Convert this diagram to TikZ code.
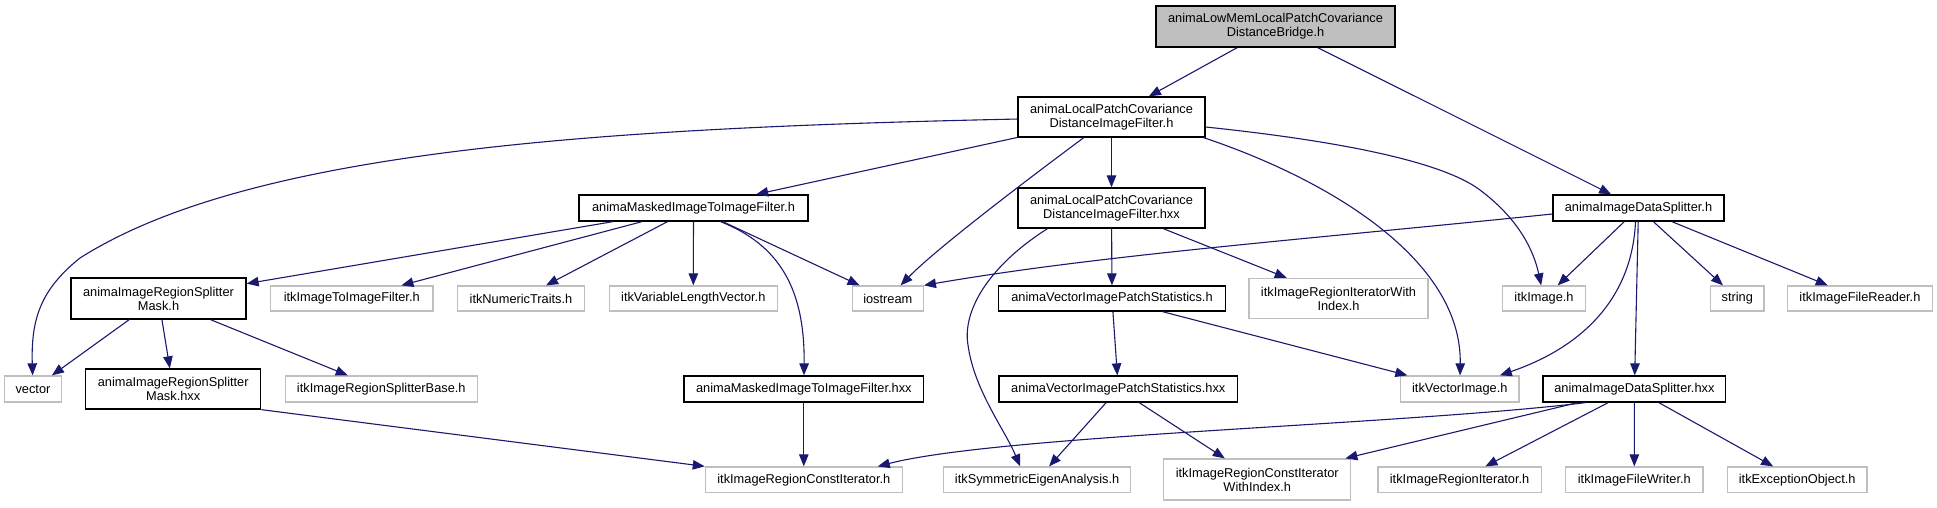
\documentclass[tikz,border=0pt]{standalone}
\usepackage{fontspec}
\setmainfont{Liberation Sans}
\usetikzlibrary{arrows.meta}
\definecolor{edgeblue}{HTML}{191970}
\definecolor{extgray}{HTML}{BFBFBF}
\definecolor{topfill}{HTML}{BFBFBF}
\begin{document}
\begin{tikzpicture}[x=1pt,y=-1pt,
  nbox/.style={draw=black, line width=1.3pt, fill=white, inner sep=0pt, align=center,
    font=\fontsize{12.8}{14}\selectfont},
  ebox/.style={nbox, draw=extgray},
  hbox/.style={nbox, fill=topfill},
  dep/.style={draw=edgeblue, line width=1.1pt, -{Triangle[length=12pt,width=9.5pt]}},
]
\fill[white] (0,0) rectangle (1937,507);
\useasboundingbox (0,0) rectangle (1937,507);

% row 0
\node[hbox, minimum width=239pt, minimum height=41pt] (top) at (1275.5,26.5) {animaLowMemLocalPatchCovariance\\DistanceBridge.h};
% row 1
\node[nbox, minimum width=187pt, minimum height=40pt] (dif) at (1111.5,117) {animaLocalPatchCovariance\\DistanceImageFilter.h};
% row 2
\node[nbox, minimum width=229pt, minimum height=26pt] (maskh) at (693.5,208) {animaMaskedImageToImageFilter.h};
\node[nbox, minimum width=187pt, minimum height=40pt] (difhxx) at (1111.5,208) {animaLocalPatchCovariance\\DistanceImageFilter.hxx};
\node[nbox, minimum width=171pt, minimum height=26pt] (dsh) at (1638.5,208) {animaImageDataSplitter.h};
% row 3
\node[nbox, minimum width=175pt, minimum height=41pt] (rsmh) at (158.5,298.5) {animaImageRegionSplitter\\Mask.h};
\node[ebox, minimum width=162.5pt, minimum height=25pt] (itkI2I) at (351.75,298.5) {itkImageToImageFilter.h};
\node[ebox, minimum width=127pt, minimum height=25pt] (numtr) at (521,298.5) {itkNumericTraits.h};
\node[ebox, minimum width=168pt, minimum height=25pt] (varlen) at (693.3,298.5) {itkVariableLengthVector.h};
\node[ebox, minimum width=71pt, minimum height=25pt] (iostream) at (887.8,298.5) {iostream};
\node[nbox, minimum width=226.7pt, minimum height=25pt] (vipsh) at (1112,298.5) {animaVectorImagePatchStatistics.h};
\node[ebox, minimum width=179pt, minimum height=40pt] (rIterWI) at (1338.5,298.5) {itkImageRegionIteratorWith\\Index.h};
\node[ebox, minimum width=83pt, minimum height=25pt] (itkImage) at (1544,298.5) {itkImage.h};
\node[ebox, minimum width=53.6pt, minimum height=25pt] (string) at (1737.3,298.5) {string};
\node[ebox, minimum width=145.3pt, minimum height=25pt] (fileReader) at (1859.9,298.5) {itkImageFileReader.h};
% row 4
\node[ebox, minimum width=57pt, minimum height=26pt] (vector) at (33,389) {vector};
\node[nbox, minimum width=175pt, minimum height=40pt] (rsmhxx) at (173.2,389) {animaImageRegionSplitter\\Mask.hxx};
\node[ebox, minimum width=192pt, minimum height=26pt] (splitBase) at (381.3,389) {itkImageRegionSplitterBase.h};
\node[nbox, minimum width=239.8pt, minimum height=26pt] (maskhxx) at (803.8,389) {animaMaskedImageToImageFilter.hxx};
\node[nbox, minimum width=238.4pt, minimum height=26pt] (vipshxx) at (1118.3,389) {animaVectorImagePatchStatistics.hxx};
\node[ebox, minimum width=118.4pt, minimum height=26pt] (itkVectorImage) at (1459.8,389) {itkVectorImage.h};
\node[nbox, minimum width=182.7pt, minimum height=26pt] (dshxx) at (1634.4,389) {animaImageDataSplitter.hxx};
% row 5
\node[ebox, minimum width=196.8pt, minimum height=25.5pt] (constIter) at (803.8,479.75) {itkImageRegionConstIterator.h};
\node[ebox, minimum width=186.6pt, minimum height=25.5pt] (symEigen) at (1037.1,479.75) {itkSymmetricEigenAnalysis.h};
\node[ebox, minimum width=187pt, minimum height=41pt] (constIterWI) at (1257.25,479.5) {itkImageRegionConstIterator\\WithIndex.h};
\node[ebox, minimum width=163.4pt, minimum height=25.5pt] (regIter) at (1459.6,479.75) {itkImageRegionIterator.h};
\node[ebox, minimum width=137.4pt, minimum height=25.5pt] (fileWriter) at (1634.3,479.75) {itkImageFileWriter.h};
\node[ebox, minimum width=139.5pt, minimum height=25.5pt] (exception) at (1797.2,479.75) {itkExceptionObject.h};

% edges
\draw[dep] (top) -- (dif);
\draw[dep] (top) -- (dsh);
\draw[dep] (dif) .. controls (600,128) and (250,150) .. (80,258) .. controls (40,290) and (31,320) .. (vector);
\draw[dep] (dif) -- (maskh);
\draw[dep] (dif) .. controls (1020,185) and (935,250) .. (iostream);
\draw[dep] (dif) -- (difhxx);
\draw[dep] ([xshift=-2pt]dif.south east) .. controls (1330,180) and (1462,260) .. (itkVectorImage);
\draw[dep] ([yshift=-10pt]dif.east) .. controls (1330,140) and (1440,160) .. (1480,190) .. controls (1520,220) and (1534,252) .. (itkImage);

\draw[dep] (maskh) -- (rsmh);
\draw[dep] (maskh) -- (itkI2I);
\draw[dep] (maskh) -- (numtr);
\draw[dep] (maskh) -- (varlen);
\draw[dep] (maskh) -- (iostream);
\draw[dep] ([xshift=27pt]maskh.south) .. controls (780,245) and (805,290) .. (maskhxx);

\draw[dep] (rsmh) -- (vector);
\draw[dep] (rsmh) -- (rsmhxx);
\draw[dep] (rsmh) -- (splitBase);
\draw[dep] (rsmhxx.south east) -- (constIter.north west);
\draw[dep] (maskhxx) -- (constIter);

\draw[dep] ([xshift=-64pt]difhxx.south) .. controls (990,265) and (962,310) .. (968,345) .. controls (974,390) and (1005,430) .. ([xshift=-17pt]symEigen.north);
\draw[dep] (difhxx) -- (vipsh);
\draw[dep] (difhxx) -- (rIterWI);
\draw[dep] (vipsh) -- (vipshxx);
\draw[dep] (vipsh) -- (itkVectorImage);
\draw[dep] (vipshxx) -- (symEigen);
\draw[dep] (vipshxx) -- (constIterWI);

\draw[dep] ([yshift=-6pt]dsh.west) .. controls (1300,240) and (1100,255) .. (iostream.north east);
\draw[dep] (dsh) -- (itkImage);
\draw[dep] ([xshift=-3pt]dsh.south) .. controls (1632,300) and (1580,348) .. (itkVectorImage);
\draw[dep] (dsh) -- (string);
\draw[dep] (dsh) -- (fileReader);
\draw[dep] (dsh) -- (dshxx);

\draw[dep] ([xshift=-49pt]dshxx.south) .. controls (1400,425) and (1000,435) .. ([xshift=74pt]constIter.north);
\draw[dep] (dshxx) -- (constIterWI);
\draw[dep] (dshxx) -- (regIter);
\draw[dep] (dshxx) -- (fileWriter);
\draw[dep] (dshxx) -- (exception);
\end{tikzpicture}
\end{document}
